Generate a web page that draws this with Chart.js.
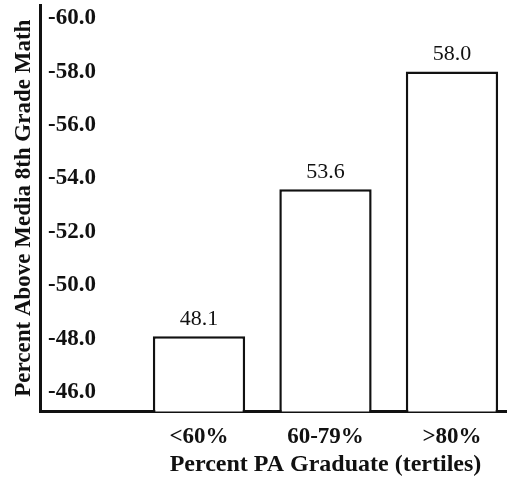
<!DOCTYPE html>
<html>
<head>
<meta charset="utf-8">
<script src="https://cdn.jsdelivr.net/npm/chart.js@4"></script>
<style>
  html, body { margin: 0; padding: 0; background: #fff; }
  #wrap { width: 507px; height: 477px; }
</style>
</head>
<body>
<div id="wrap"><canvas id="chart"></canvas></div>
<script>
const categories = ["<60%", "60-79%", ">80%"];
const positions = [1, 2, 3];
const values = [48.1, 53.6, 58.0];
const yTicks = [46, 48, 50, 52, 54, 56, 58, 60];

const serif = "'Liberation Serif', 'Times New Roman', serif";

// value labels above bars
const barLabels = {
  id: "barLabels",
  afterDatasetsDraw(chart) {
    const ctx = chart.ctx;
    const meta = chart.getDatasetMeta(0);
    ctx.save();
    ctx.font = "22px " + serif;
    ctx.fillStyle = "#111";
    ctx.textAlign = "center";
    ctx.textBaseline = "middle";
    meta.data.forEach((bar, i) => {
      ctx.fillText(values[i].toFixed(1), bar.x, bar.y - 17);
    });
    ctx.restore();
  }
};

// x axis title, centred under the middle bar
const xTitle = {
  id: "xTitle",
  afterDraw(chart) {
    const ctx = chart.ctx;
    ctx.save();
    ctx.font = "bold 24px " + serif;
    ctx.fillStyle = "#111";
    ctx.textAlign = "center";
    ctx.textBaseline = "middle";
    ctx.fillText("Percent PA Graduate (tertiles)", chart.scales.x.getPixelForValue(2), 465);
    ctx.restore();
  }
};

new Chart(document.getElementById("chart"), {
  type: "bar",
  data: {
    datasets: [{
      data: positions.map((p, i) => ({ x: p, y: values[i] })),
      backgroundColor: "#fff",
      borderColor: "#111",
      borderWidth: 2.5,
      borderSkipped: false,
      categoryPercentage: 1,
      barPercentage: 0.73
    }]
  },
  options: {
    responsive: true,
    maintainAspectRatio: false,
    animation: false,
    layout: { padding: { left: 0, right: 0, top: 5, bottom: 14 } },
    plugins: { legend: { display: false }, tooltip: { enabled: false } },
    scales: {
      x: {
        type: "linear",
        offset: false,
        min: -0.257,
        max: 3.435,
        grid: { display: false, drawTicks: false, offset: false },
        border: { display: true, color: "#111", width: 3 },
        afterBuildTicks(scale) { scale.ticks = positions.map(v => ({ value: v })); },
        afterFit(scale) { scale.paddingLeft = 0; scale.paddingRight = 0; },
        ticks: {
          padding: 12,
          color: "#111",
          font: { family: serif, size: 23, weight: "bold" },
          callback: v => categories[positions.indexOf(v)]
        }
      },
      y: {
        min: 45.29,
        max: 60.49,
        grid: { display: false, drawTicks: false },
        border: { display: true, color: "#111", width: 3 },
        afterBuildTicks(scale) { scale.ticks = yTicks.map(v => ({ value: v })); },
        afterFit(scale) { scale.width = 40; scale.paddingTop = 0; scale.paddingBottom = 0; },
        title: {
          display: true,
          text: "Percent Above Media 8th Grade Math",
          color: "#111",
          padding: { top: 10, bottom: 0 },
          font: { family: serif, size: 23, weight: "bold" }
        },
        ticks: {
          mirror: true,
          padding: 8,
          color: "#111",
          font: { family: serif, size: 23, weight: "bold" },
          callback: v => "-" + v.toFixed(1)
        }
      }
    }
  },
  plugins: [barLabels, xTitle]
});
</script>
</body>
</html>
